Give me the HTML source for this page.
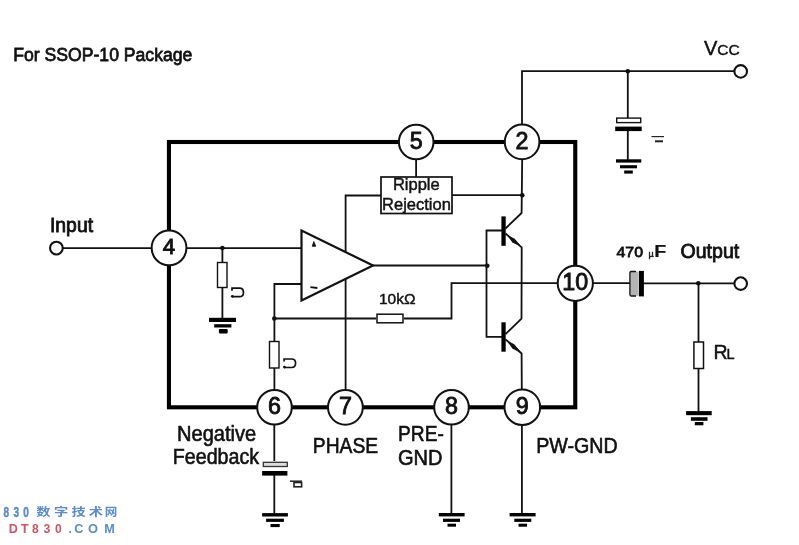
<!DOCTYPE html>
<html>
<head>
<meta charset="utf-8">
<title>SSOP-10 Package</title>
<style>
html,body{margin:0;padding:0;background:#fff;}
body{width:799px;height:545px;overflow:hidden;position:relative;font-family:"Liberation Sans",sans-serif;}
svg{position:absolute;left:0;top:0;display:block;}
text{font-family:"Liberation Sans",sans-serif;fill:#111;stroke:#111;stroke-width:0.45;}
.w{stroke:#111;stroke-width:1.8;fill:none;stroke-linecap:butt;}
.t{stroke:#000;stroke-width:4.1;fill:none;stroke-linejoin:miter;}
.pin{fill:#fff;stroke:#111;stroke-width:2;}
.pt{text-anchor:middle;stroke-width:0.85;}
.dot{fill:#111;}
.lbl{font-size:20px;stroke-width:0.55;}
.g{fill:#000;}
.cjk{font-family:"Liberation Sans","Noto Sans CJK SC",sans-serif;fill:#5a8ccf;stroke:none;}
</style>
</head>
<body>
<svg style="will-change:transform" width="799" height="545" viewBox="0 0 799 545">
<rect x="0" y="0" width="799" height="545" fill="#fff"/>

<!-- title -->
<text transform="translate(13.3 60.7) scale(1 1.1)" font-size="17.5" textLength="179" lengthAdjust="spacingAndGlyphs" style="stroke-width:0.7">For SSOP-10 Package</text>

<!-- Vcc rail -->
<text x="704" y="55" font-size="20">V<tspan font-size="15.5">CC</tspan></text>
<path class="w" d="M734 71.200H522V124"/>
<circle cx="740.700" cy="71.400" r="6.300" fill="#fff" stroke="#111" stroke-width="2.100"/>
<circle class="dot" cx="627.800" cy="71.200" r="2.300"/>
<!-- Vcc cap -->
<path class="w" d="M627.800 71.200V118M627.800 131V160"/>
<rect x="616.700" y="118.100" width="24" height="4.500" fill="#fff" stroke="#111" stroke-width="1.400"/>
<rect class="g" x="615.200" y="126.600" width="26.500" height="4.500"/>
<rect class="g" x="616" y="159.300" width="25.300" height="3.300"/>
<rect class="g" x="620" y="165.200" width="17" height="3.100"/>
<rect class="g" x="624.200" y="170.500" width="8.600" height="3.100"/>
<path d="M651.500 136.600h12.500" stroke="#222" stroke-width="1.200" fill="none"/><path d="M655 141.300h8" stroke="#222" stroke-width="2" fill="none"/>

<!-- IC body -->
<rect class="t" x="168.950" y="142" width="406.300" height="265.300"/>

<!-- input -->
<text x="50" y="232.200" font-size="20" textLength="43" lengthAdjust="spacingAndGlyphs" style="stroke-width:0.85">Input</text>
<path class="w" d="M63 248.100H301"/>
<circle cx="56.400" cy="248.100" r="6.350" fill="#fff" stroke="#111" stroke-width="2.100"/>
<circle class="dot" cx="222.400" cy="248" r="2.300"/>
<!-- input resistor to gnd -->
<path class="w" d="M222.400 248V262M222.400 288V318"/>
<rect x="217.500" y="262.500" width="9.500" height="25" fill="#fff" stroke="#111" stroke-width="1.400"/>
<rect class="g" x="209" y="317.800" width="27" height="4.200"/>
<rect class="g" x="214.200" y="324.200" width="17.200" height="3.300"/>
<rect class="g" x="218.900" y="329.100" width="8.800" height="4.400" rx="1"/>
<path d="M232 290.800V288.200H239.500C244.800 288.200 244.800 296.700 239.500 296.700H232" stroke="#111" stroke-width="1.700" fill="none"/><circle cx="232.300" cy="296.300" r="1.400" fill="#111"/>

<!-- pin7 phase line (behind op amp) -->
<path class="w" d="M345.600 390V195.500H381"/>

<!-- op amp -->
<path d="M301.500 230.500V300.500L373 265.500Z" fill="#fff" stroke="#111" stroke-width="2.200" stroke-linejoin="miter"/>
<path d="M313.800 241.500l2 4.800h-3.600z" fill="#111" stroke="#111" stroke-width="0.800" stroke-linejoin="round"/>
<path d="M310.400 287.200l7 0.800" stroke="#111" stroke-width="1.800"/>
<!-- op amp output -->
<path class="w" d="M373 265.500H486.500"/>
<circle class="dot" cx="487.300" cy="265.700" r="2.300"/>
<path class="w" d="M504 230.500H486.500V336.800H504"/>

<!-- inverting input / feedback -->
<path class="w" d="M301 284H274.400V341M274.400 368V390"/>
<circle class="dot" cx="274.300" cy="318.500" r="2.300"/>
<path class="w" d="M274 318.500H376M404 318.500H451.500V283.100H559"/>
<rect x="377" y="314.200" width="26" height="8.600" fill="#fff" stroke="#111" stroke-width="1.500"/>
<text x="379" y="304" font-size="15.500">10k&#937;</text>
<rect x="269.500" y="341.500" width="9.500" height="26.500" fill="#fff" stroke="#111" stroke-width="1.400"/>
<path d="M284.100 361.600V359H291.600C296.900 359 296.900 367.500 291.600 367.500H284.100" stroke="#111" stroke-width="1.700" fill="none"/><circle cx="284.400" cy="367.100" r="1.400" fill="#111"/>

<!-- ripple rejection -->
<path class="w" d="M416.100 158V177"/>
<rect x="381" y="177" width="71" height="36.500" fill="#fff" stroke="#111" stroke-width="1.700"/>
<text x="416.300" y="190.300" font-size="16.500" text-anchor="middle">Ripple</text>
<text x="416.500" y="209.700" font-size="16.500" text-anchor="middle">Rejection</text>
<path class="w" d="M452 195.200H522"/>
<circle class="dot" cx="522.300" cy="195.200" r="2.300"/>

<!-- transistors -->
<path class="w" d="M522.200 158L521.600 213L505.500 228.500"/>
<path class="w" d="M505.500 233.500L521.700 247.300L521.500 318.700L505.500 334.200"/>
<path class="w" d="M505.500 339.300L521.600 353.500L521.800 390"/>
<path d="M508.500 236.200L514 239L519.500 245.300L513 242.300Z" fill="#111" stroke="#111" stroke-width="1.200" stroke-linejoin="round"/>
<path d="M508.500 342L514 344.800L519.500 351.400L513 348.300Z" fill="#111" stroke="#111" stroke-width="1.200" stroke-linejoin="round"/>
<rect class="g" x="501.400" y="216.400" width="4.300" height="29.400"/>
<rect class="g" x="501.400" y="322.300" width="4.300" height="29.400"/>

<!-- output -->
<path class="w" d="M593 283.200H630M642 283.400H734"/>
<rect x="630" y="271.600" width="8.400" height="24.200" fill="#b4b4b4"/>
<path d="M636 271.500H631.200Q629.900 271.500 629.900 273V294.500Q629.900 296 631.200 296H636" stroke="#111" stroke-width="1.300" fill="none"/>
<rect class="g" x="638.900" y="270.900" width="5" height="25.500"/>
<circle cx="740.700" cy="283.600" r="6.300" fill="#fff" stroke="#111" stroke-width="2.100"/>
<circle class="dot" cx="698.300" cy="283.300" r="2.300"/>
<path class="w" d="M698.500 283.500V342M698.500 368V412"/>
<rect x="693.900" y="342" width="9.600" height="26.500" fill="#fff" stroke="#111" stroke-width="1.500"/>
<rect class="g" x="686.100" y="411.100" width="25.600" height="4.100"/>
<rect class="g" x="690.900" y="417.200" width="16.600" height="3.600"/>
<rect class="g" x="694.800" y="422" width="8.600" height="3.300"/>
<text x="616.500" y="257" font-size="15.500" style="stroke-width:0.8" textLength="26.500" lengthAdjust="spacingAndGlyphs">470</text>
<text x="648.500" y="257" font-size="9">&#181;</text>
<text x="654.300" y="257" font-size="16" font-weight="bold" style="stroke-width:0.2" textLength="12" lengthAdjust="spacingAndGlyphs">F</text>
<text x="680.500" y="258.200" font-size="19.500" textLength="58.700" lengthAdjust="spacingAndGlyphs" style="stroke-width:0.8">Output</text>
<text x="713.500" y="359.300" font-size="19.500">R<tspan font-size="14.500" dx="-1">L</tspan></text>

<!-- pin 6 cap to ground -->
<path class="w" d="M274.300 423V461M274.300 474V513"/>
<rect x="263.300" y="462.300" width="24" height="4.200" fill="#ddd" stroke="#333" stroke-width="1.300"/>
<rect class="g" x="262.100" y="471" width="25.300" height="4.600"/>
<rect class="g" x="262.100" y="513.100" width="25.800" height="3.400"/>
<rect class="g" x="266.100" y="518.700" width="17.800" height="3.200"/>
<rect class="g" x="270.500" y="524" width="9.200" height="3.100"/>
<path d="M290 481.200h12" stroke="#222" stroke-width="1.500" fill="none"/><rect x="294" y="482.500" width="7.600" height="4.300" fill="#fff" stroke="#222" stroke-width="1.600"/>
<!-- pin 8, 9 grounds -->
<path class="w" d="M451.400 423V513M521.900 423V513"/>
<rect class="g" x="438.800" y="513" width="25.800" height="3.400"/>
<rect class="g" x="443" y="518.700" width="17" height="3.200"/>
<rect class="g" x="447.500" y="523.700" width="8.500" height="3"/>
<rect class="g" x="509.600" y="513" width="26" height="3.400"/>
<rect class="g" x="514.300" y="518.700" width="17" height="3.200"/>
<rect class="g" x="518.500" y="523.700" width="8.500" height="3"/>

<!-- pins -->
<circle class="pin" cx="416.20" cy="142.00" r="17.3"/><text class="pt" x="416.20" y="148.70" font-size="23.3">5</text>
<circle class="pin" cx="522.10" cy="141.90" r="17.3"/><text class="pt" x="522.10" y="148.60" font-size="23.3">2</text>
<circle class="pin" cx="169.05" cy="247.90" r="17.4"/><text class="pt" x="169.05" y="254.30" font-size="22.3">4</text>
<circle class="pin" cx="575.30" cy="283.30" r="17.6"/><text class="pt" x="575.30" y="290.00" font-size="23.3">10</text>
<circle class="pin" cx="274.50" cy="407.30" r="17.3"/><text class="pt" x="274.50" y="414.00" font-size="23.3">6</text>
<circle class="pin" cx="345.40" cy="407.30" r="17.4"/><text class="pt" x="345.40" y="414.00" font-size="23.3">7</text>
<circle class="pin" cx="451.50" cy="407.30" r="17.3"/><text class="pt" x="451.50" y="414.00" font-size="23.3">8</text>
<circle class="pin" cx="522.30" cy="407.20" r="17.8"/><text class="pt" x="522.30" y="413.90" font-size="23.3">9</text>

<!-- labels -->
<text class="lbl" transform="translate(177.0 440.7) scale(1 1.07)" textLength="79.3" lengthAdjust="spacingAndGlyphs">Negative</text>
<text class="lbl" transform="translate(172.8 464.3) scale(1 1.07)" textLength="86.3" lengthAdjust="spacingAndGlyphs">Feedback</text>
<text class="lbl" transform="translate(312.8 453.0) scale(1 1.07)" textLength="65.3" lengthAdjust="spacingAndGlyphs">PHASE</text>
<text class="lbl" transform="translate(398.0 440.5) scale(1 1.07)" textLength="45.8" lengthAdjust="spacingAndGlyphs">PRE-</text>
<text class="lbl" transform="translate(398.0 465.0) scale(1 1.07)" textLength="44.6" lengthAdjust="spacingAndGlyphs">GND</text>
<text class="lbl" transform="translate(536.2 453.0) scale(1 1.07)" textLength="81.5" lengthAdjust="spacingAndGlyphs">PW-GND</text>

<!-- watermark -->
<g id="wm">
<g font-size="11.4" font-weight="bold" text-anchor="middle">
<text class="cjk" transform="translate(43.3 516.3) scale(1.25 1)">数</text>
<text class="cjk" transform="translate(61.2 516.3) scale(1.25 1)">字</text>
<text class="cjk" transform="translate(78.6 516.3) scale(1.25 1)">技</text>
<text class="cjk" transform="translate(95.8 516.3) scale(1.25 1)">术</text>
<text class="cjk" transform="translate(110.9 516.3) scale(1.1 1)">网</text>
</g>
<g font-size="14" font-weight="bold" text-anchor="middle">
<text style="fill:#5a8ccf;stroke:#5a8ccf;stroke-width:0.5" transform="translate(6.3 517) scale(0.72 1)">8</text>
<text style="fill:#5a8ccf;stroke:#5a8ccf;stroke-width:0.5" transform="translate(16.2 517) scale(0.72 1)">3</text>
<text style="fill:#5a8ccf;stroke:#5a8ccf;stroke-width:0.5" transform="translate(26 517) scale(0.72 1)">0</text>
</g>
<g font-size="13.300" font-weight="bold" text-anchor="middle">
<text style="fill:#cf5560;stroke:none" transform="translate(13.3 533) scale(0.95 1)">D</text>
<text style="fill:#cf5560;stroke:none" transform="translate(24.6 533) scale(0.97 1)">T</text>
<text style="fill:#cf5560;stroke:none" transform="translate(35.5 533) scale(0.92 1)">8</text>
<text style="fill:#cf5560;stroke:none" transform="translate(47 533) scale(0.92 1)">3</text>
<text style="fill:#cf5560;stroke:none" transform="translate(58.5 533) scale(0.92 1)">0</text>
<text style="fill:#5a8ccf;stroke:none" transform="translate(70.2 533) scale(0.9 1)">.</text>
<text style="fill:#5a8ccf;stroke:none" transform="translate(78.9 533) scale(0.95 1)">C</text>
<text style="fill:#5a8ccf;stroke:none" transform="translate(93.1 533) scale(0.97 1)">O</text>
<text style="fill:#5a8ccf;stroke:none" transform="translate(109.5 533) scale(0.95 1)">M</text>
</g>
</g>
</svg>
</body>
</html>
